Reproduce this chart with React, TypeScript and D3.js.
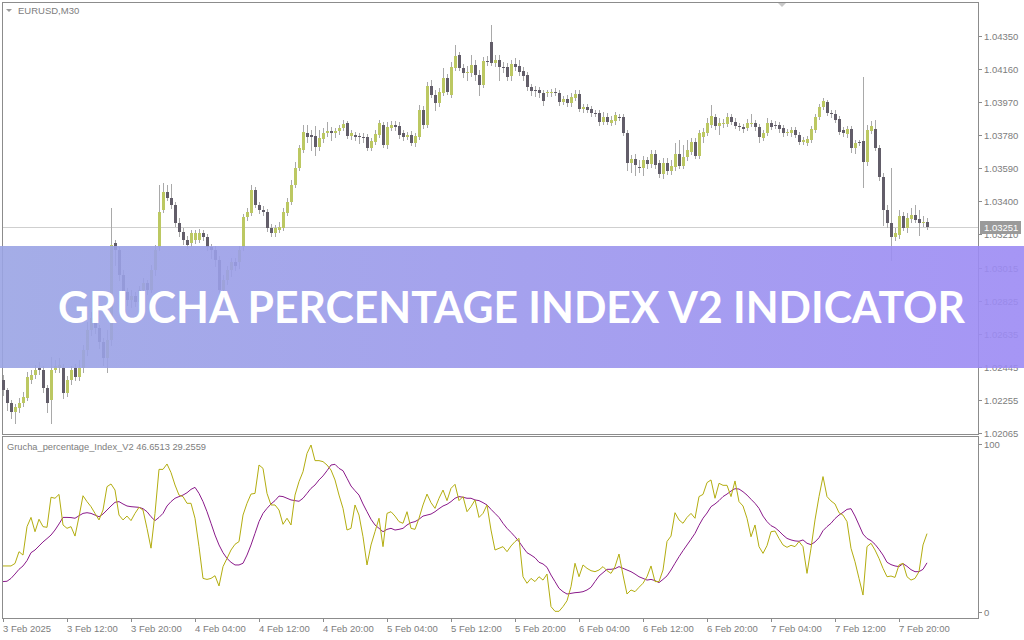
import React from "react";
import * as d3 from "d3";

const opens = [
  1.02368, 1.02311, 1.02236, 1.02183, 1.02207, 1.02236, 1.02265, 1.02368, 1.02397, 1.02437,
  1.02426, 1.02322, 1.02253, 1.02426, 1.02437, 1.02437, 1.02294, 1.02368, 1.02437, 1.02386,
  1.02437, 1.02541, 1.02656, 1.02725, 1.02667, 1.02587, 1.02495, 1.02599, 1.03158, 1.03117,
  1.02973, 1.02875, 1.02829, 1.02852, 1.02817, 1.02887, 1.02927, 1.02887, 1.03002, 1.03135,
  1.03347, 1.03451, 1.03417, 1.03376, 1.03273, 1.03220, 1.03175, 1.03158, 1.03175, 1.03175,
  1.03215, 1.03192, 1.03135, 1.03117, 1.03059, 1.02887, 1.02944, 1.03002, 1.03047, 1.03047,
  1.03135, 1.03307, 1.03330, 1.03463, 1.03376, 1.03347, 1.03335, 1.03244, 1.03215, 1.03232,
  1.03244, 1.03330, 1.03393, 1.03491, 1.03589, 1.03693, 1.03791, 1.03779, 1.03773, 1.03710,
  1.03756, 1.03791, 1.03802, 1.03791, 1.03802, 1.03820, 1.03849, 1.03773, 1.03779, 1.03773,
  1.03768, 1.03768, 1.03704, 1.03739, 1.03779, 1.03837, 1.03722, 1.03820, 1.03837, 1.03831,
  1.03791, 1.03768, 1.03779, 1.03733, 1.03768, 1.03923, 1.03837, 1.04062, 1.04010, 1.03964,
  1.04022, 1.04108, 1.04010, 1.04166, 1.04240, 1.04166, 1.04137, 1.04137, 1.04182, 1.04125,
  1.04067, 1.04205, 1.04315, 1.04194, 1.04211, 1.04171, 1.04171, 1.04119, 1.04188, 1.04176,
  1.04148, 1.04125, 1.04056, 1.04039, 1.04039, 1.04022, 1.04022, 1.04022, 1.04027, 1.04022,
  1.03969, 1.03987, 1.03964, 1.03993, 1.04016, 1.03929, 1.03941, 1.03929, 1.03906, 1.03906,
  1.03854, 1.03883, 1.03849, 1.03860, 1.03883, 1.03883, 1.03791, 1.03618, 1.03641, 1.03595,
  1.03589, 1.03635, 1.03612, 1.03670, 1.03618, 1.03555, 1.03618, 1.03572, 1.03595, 1.03670,
  1.03601, 1.03653, 1.03681, 1.03739, 1.03658, 1.03768, 1.03791, 1.03837, 1.03883, 1.03831,
  1.03843, 1.03843, 1.03883, 1.03854, 1.03831, 1.03826, 1.03820, 1.03843, 1.03849, 1.03826,
  1.03762, 1.03791, 1.03849, 1.03837, 1.03837, 1.03820, 1.03791, 1.03791, 1.03808, 1.03779,
  1.03739, 1.03733, 1.03751, 1.03808, 1.03883, 1.03941, 1.03969, 1.03906, 1.03900, 1.03871,
  1.03808, 1.03785, 1.03814, 1.03704, 1.03739, 1.03745, 1.03623, 1.03802, 1.03814, 1.03704,
  1.03538, 1.03347, 1.03273, 1.03192, 1.03203, 1.03312, 1.03244, 1.03295, 1.03318, 1.03295,
  1.03273, 1.03278,
];

const closes = [
  1.02311, 1.02236, 1.02183, 1.02212, 1.02236, 1.02271, 1.02386, 1.02397, 1.02426, 1.02426,
  1.02322, 1.02236, 1.02426, 1.02449, 1.02455, 1.02294, 1.02368, 1.02426, 1.02386, 1.02437,
  1.02541, 1.02656, 1.02725, 1.02667, 1.02587, 1.02495, 1.02599, 1.03146, 1.03117, 1.02973,
  1.02875, 1.02829, 1.02852, 1.02817, 1.02887, 1.02927, 1.02887, 1.03002, 1.03117, 1.03335,
  1.03451, 1.03417, 1.03376, 1.03273, 1.03220, 1.03175, 1.03146, 1.03215, 1.03215, 1.03215,
  1.03192, 1.03135, 1.03117, 1.03059, 1.02887, 1.02944, 1.03002, 1.03047, 1.03024, 1.03117,
  1.03307, 1.03335, 1.03463, 1.03376, 1.03347, 1.03335, 1.03244, 1.03215, 1.03244, 1.03250,
  1.03335, 1.03393, 1.03491, 1.03589, 1.03704, 1.03796, 1.03768, 1.03768, 1.03710, 1.03762,
  1.03791, 1.03802, 1.03791, 1.03802, 1.03820, 1.03843, 1.03773, 1.03791, 1.03768, 1.03768,
  1.03762, 1.03704, 1.03745, 1.03785, 1.03849, 1.03722, 1.03826, 1.03837, 1.03826, 1.03779,
  1.03768, 1.03779, 1.03733, 1.03773, 1.03923, 1.03837, 1.04062, 1.04010, 1.03964, 1.04027,
  1.04108, 1.04027, 1.04171, 1.04234, 1.04166, 1.04137, 1.04142, 1.04182, 1.04125, 1.04067,
  1.04205, 1.04199, 1.04194, 1.04211, 1.04171, 1.04168, 1.04114, 1.04188, 1.04171, 1.04142,
  1.04119, 1.04056, 1.04033, 1.04036, 1.04022, 1.03975, 1.04027, 1.04027, 1.04022, 1.03969,
  1.03987, 1.03964, 1.03999, 1.04016, 1.03929, 1.03941, 1.03923, 1.03906, 1.03903, 1.03854,
  1.03883, 1.03854, 1.03866, 1.03894, 1.03880, 1.03791, 1.03618, 1.03641, 1.03606, 1.03589,
  1.03635, 1.03612, 1.03670, 1.03606, 1.03555, 1.03618, 1.03572, 1.03601, 1.03670, 1.03601,
  1.03653, 1.03693, 1.03739, 1.03658, 1.03791, 1.03796, 1.03849, 1.03888, 1.03831, 1.03849,
  1.03849, 1.03883, 1.03854, 1.03831, 1.03826, 1.03814, 1.03849, 1.03849, 1.03826, 1.03768,
  1.03791, 1.03849, 1.03826, 1.03831, 1.03814, 1.03791, 1.03796, 1.03808, 1.03779, 1.03739,
  1.03751, 1.03756, 1.03814, 1.03883, 1.03941, 1.03975, 1.03906, 1.03900, 1.03866, 1.03796,
  1.03791, 1.03814, 1.03704, 1.03733, 1.03733, 1.03623, 1.03808, 1.03831, 1.03704, 1.03538,
  1.03347, 1.03273, 1.03192, 1.03215, 1.03312, 1.03244, 1.03301, 1.03318, 1.03290, 1.03273,
  1.03278, 1.03251,
];

const highs = [
  1.02397, 1.02322, 1.02253, 1.02230, 1.02265, 1.02299, 1.02414, 1.02426, 1.02455, 1.02471,
  1.02449, 1.02339, 1.02501, 1.02483, 1.02495, 1.02460, 1.02391, 1.02449, 1.02460, 1.02483,
  1.02570, 1.02702, 1.02759, 1.02748, 1.02685, 1.02610, 1.02656, 1.03359, 1.03175, 1.03135,
  1.03002, 1.02898, 1.02887, 1.02875, 1.02910, 1.02956, 1.02944, 1.03030, 1.03146, 1.03491,
  1.03503, 1.03491, 1.03497, 1.03393, 1.03301, 1.03244, 1.03197, 1.03232, 1.03232, 1.03238,
  1.03232, 1.03209, 1.03152, 1.03140, 1.03082, 1.02973, 1.03024, 1.03071, 1.03071, 1.03140,
  1.03324, 1.03359, 1.03491, 1.03480, 1.03393, 1.03370, 1.03353, 1.03267, 1.03261, 1.03278,
  1.03359, 1.03417, 1.03520, 1.03623, 1.03722, 1.03837, 1.03837, 1.03808, 1.03831, 1.03808,
  1.03820, 1.03854, 1.03826, 1.03820, 1.03837, 1.03866, 1.03860, 1.03808, 1.03796, 1.03791,
  1.03791, 1.03785, 1.03762, 1.03808, 1.03866, 1.03854, 1.03854, 1.03860, 1.03860, 1.03854,
  1.03808, 1.03796, 1.03802, 1.03791, 1.03952, 1.03946, 1.04084, 1.04096, 1.04039, 1.04050,
  1.04166, 1.04131, 1.04199, 1.04298, 1.04257, 1.04188, 1.04176, 1.04240, 1.04211, 1.04154,
  1.04228, 1.04234, 1.04413, 1.04240, 1.04240, 1.04199, 1.04194, 1.04211, 1.04222, 1.04211,
  1.04171, 1.04142, 1.04073, 1.04062, 1.04056, 1.04039, 1.04039, 1.04044, 1.04050, 1.04039,
  1.04004, 1.04010, 1.04022, 1.04039, 1.04039, 1.03958, 1.03958, 1.03946, 1.03923, 1.03923,
  1.03911, 1.03906, 1.03888, 1.03911, 1.03900, 1.03900, 1.03808, 1.03664, 1.03670, 1.03635,
  1.03658, 1.03653, 1.03693, 1.03693, 1.03635, 1.03647, 1.03647, 1.03635, 1.03733, 1.03751,
  1.03722, 1.03751, 1.03762, 1.03762, 1.03808, 1.03820, 1.03877, 1.03952, 1.03900, 1.03877,
  1.03871, 1.03906, 1.03900, 1.03877, 1.03849, 1.03843, 1.03871, 1.03900, 1.03866, 1.03843,
  1.03808, 1.03877, 1.03866, 1.03860, 1.03854, 1.03837, 1.03814, 1.03826, 1.03826, 1.03796,
  1.03768, 1.03773, 1.03831, 1.03900, 1.03958, 1.03993, 1.03981, 1.03923, 1.03923, 1.03888,
  1.03826, 1.03831, 1.03831, 1.03751, 1.03751, 1.04114, 1.03837, 1.03860, 1.03866, 1.03722,
  1.03561, 1.03376, 1.03589, 1.03244, 1.03347, 1.03335, 1.03330, 1.03359, 1.03376, 1.03347,
  1.03312, 1.03301,
];

const lows = [
  1.02282, 1.02195, 1.02149, 1.02121, 1.02183, 1.02218, 1.02253, 1.02351, 1.02380, 1.02403,
  1.02299, 1.02183, 1.02121, 1.02414, 1.02414, 1.02265, 1.02276, 1.02345, 1.02368, 1.02368,
  1.02414, 1.02512, 1.02627, 1.02639, 1.02553, 1.02455, 1.02414, 1.02570, 1.03030, 1.02944,
  1.02841, 1.02800, 1.02789, 1.02794, 1.02800, 1.02870, 1.02864, 1.02875, 1.02973, 1.03117,
  1.03335, 1.03405, 1.03359, 1.03255, 1.03197, 1.03152, 1.03129, 1.03140, 1.03158, 1.03163,
  1.03175, 1.03117, 1.03071, 1.03024, 1.02864, 1.02870, 1.02921, 1.02967, 1.03002, 1.03013,
  1.03117, 1.03290, 1.03318, 1.03365, 1.03330, 1.03318, 1.03226, 1.03197, 1.03197, 1.03220,
  1.03232, 1.03318, 1.03382, 1.03480, 1.03578, 1.03681, 1.03739, 1.03693, 1.03664, 1.03693,
  1.03739, 1.03773, 1.03751, 1.03768, 1.03785, 1.03808, 1.03762, 1.03756, 1.03751, 1.03733,
  1.03739, 1.03693, 1.03693, 1.03728, 1.03768, 1.03710, 1.03704, 1.03808, 1.03808, 1.03762,
  1.03751, 1.03756, 1.03722, 1.03716, 1.03756, 1.03820, 1.03826, 1.03999, 1.03923, 1.03946,
  1.04010, 1.04016, 1.03999, 1.04154, 1.04154, 1.04114, 1.04096, 1.04119, 1.04096, 1.04010,
  1.04056, 1.04182, 1.04182, 1.04176, 1.04096, 1.04142, 1.04096, 1.04096, 1.04154, 1.04125,
  1.04096, 1.04039, 1.04010, 1.04004, 1.03999, 1.03952, 1.04004, 1.04004, 1.04010, 1.03952,
  1.03958, 1.03946, 1.03946, 1.03981, 1.03917, 1.03911, 1.03911, 1.03888, 1.03888, 1.03837,
  1.03843, 1.03843, 1.03837, 1.03843, 1.03866, 1.03779, 1.03578, 1.03566, 1.03549, 1.03566,
  1.03549, 1.03589, 1.03595, 1.03589, 1.03538, 1.03532, 1.03555, 1.03555, 1.03578, 1.03589,
  1.03589, 1.03635, 1.03670, 1.03647, 1.03647, 1.03739, 1.03779, 1.03826, 1.03814, 1.03785,
  1.03826, 1.03831, 1.03843, 1.03820, 1.03808, 1.03796, 1.03808, 1.03831, 1.03808, 1.03739,
  1.03751, 1.03779, 1.03814, 1.03820, 1.03796, 1.03773, 1.03779, 1.03773, 1.03768, 1.03728,
  1.03728, 1.03722, 1.03739, 1.03796, 1.03871, 1.03929, 1.03894, 1.03883, 1.03854, 1.03785,
  1.03773, 1.03768, 1.03681, 1.03675, 1.03722, 1.03480, 1.03606, 1.03791, 1.03693, 1.03520,
  1.03261, 1.03250, 1.03059, 1.03175, 1.03186, 1.03232, 1.03220, 1.03278, 1.03278, 1.03203,
  1.03255, 1.03238,
];

// Grucha percentage index (fast line, olive)
const gruchaIndex = [
  27.4, 27.4, 27.4, 28.9, 35.9, 33.9, 50.8, 56.3, 47.8, 55.2,
  50.8, 50.4, 68.3, 67.7, 70.0, 51.8, 49.8, 50.8, 45.2, 56.7,
  69.2, 65.7, 62.7, 58.7, 54.8, 60.7, 74.6, 76.2, 72.6, 57.7,
  54.8, 57.1, 54.4, 58.7, 62.3, 60.7, 49.8, 38.0, 58.7, 84.9,
  84.9, 88.1, 83.0, 75.6, 69.6, 68.7, 64.7, 64.7, 55.8, 38.9,
  20.0, 19.4, 20.0, 21.6, 15.5, 27.0, 31.9, 36.9, 40.3, 41.9,
  57.7, 64.7, 70.2, 70.6, 87.5, 85.5, 70.6, 63.7, 63.7, 60.7,
  52.2, 55.8, 51.8, 69.6, 77.6, 83.5, 94.4, 99.4, 90.1, 90.1,
  89.5, 87.5, 84.5, 78.6, 69.6, 61.7, 48.8, 49.8, 63.7, 57.7,
  44.8, 28.0, 39.9, 47.8, 55.8, 38.9, 58.7, 59.7, 57.1, 53.8,
  52.8, 59.7, 49.8, 49.2, 55.8, 63.7, 70.2, 65.1, 61.7, 67.7,
  72.6, 66.3, 73.6, 76.0, 66.3, 68.7, 59.7, 62.7, 66.7, 56.3,
  58.7, 63.7, 48.8, 36.9, 37.9, 38.9, 35.9, 39.3, 41.9, 43.8,
  21.0, 17.1, 20.0, 18.1, 21.0, 19.0, 22.6, 3.2, 0.4, 0.4,
  3.2, 6.7, 15.1, 29.0, 21.0, 28.0, 26.0, 24.6, 24.0, 25.0,
  27.0, 24.6, 23.0, 27.0, 34.5, 22.0, 10.7, 13.1, 12.1, 14.7,
  17.1, 21.0, 27.4, 18.1, 18.1, 25.0, 42.0, 45.2, 59.1, 54.8,
  52.8, 56.3, 58.7, 55.8, 68.7, 70.0, 77.0, 78.6, 67.7, 76.6,
  75.4, 75.4, 68.7, 78.0, 65.7, 63.1, 55.8, 44.8, 51.8, 38.9,
  34.9, 39.5, 47.8, 48.2, 43.8, 39.9, 38.5, 39.7, 38.9, 41.9,
  38.9, 23.0, 37.9, 54.8, 68.7, 80.6, 68.7, 66.1, 64.3, 59.1,
  57.7, 53.8, 37.9, 29.9, 20.0, 10.1, 38.9, 40.9, 36.9, 31.9,
  26.0, 21.0, 21.4, 20.6, 28.0, 29.0, 21.0, 19.0, 20.0, 24.0,
  39.9, 46.65,
];

// signal line (purple)
const signalLine = [
  18.1, 18.3, 20.0, 22.6, 25.4, 27.4, 30.6, 35.3, 36.9, 39.3,
  41.7, 43.7, 45.8, 48.8, 52.4, 56.3, 56.3, 56.2, 55.8, 57.3,
  58.7, 59.1, 58.7, 57.7, 56.7, 58.3, 60.7, 63.1, 65.3, 65.7,
  64.3, 63.1, 62.7, 62.5, 62.3, 61.5, 59.7, 56.7, 54.4, 56.3,
  58.7, 63.1, 65.7, 67.7, 68.7, 69.6, 71.0, 73.0, 74.2, 70.6,
  65.7, 59.7, 52.8, 45.8, 39.9, 35.3, 31.9, 29.6, 28.0, 28.0,
  29.0, 33.9, 39.9, 46.8, 53.8, 58.7, 61.7, 64.3, 66.3, 69.0,
  68.7, 67.7, 66.7, 66.3, 65.9, 67.7, 70.6, 73.6, 75.6, 78.6,
  81.0, 84.1, 87.5, 87.9, 85.5, 84.1, 79.6, 75.0, 72.2, 69.6,
  64.3, 59.7, 55.2, 51.8, 49.8, 47.8, 49.2, 49.8, 48.8, 49.2,
  49.8, 51.8, 53.2, 53.8, 55.2, 57.1, 57.7, 58.3, 59.7, 61.5,
  63.1, 64.1, 65.7, 67.7, 68.7, 68.3, 67.7, 67.7, 66.7, 66.3,
  65.1, 63.7, 61.1, 58.7, 56.3, 52.8, 49.8, 47.4, 44.8, 41.9,
  38.5, 35.3, 33.9, 32.3, 29.6, 28.6, 26.6, 22.0, 18.1, 14.1,
  12.1, 10.7, 11.1, 11.5, 11.7, 12.1, 13.1, 14.7, 18.1, 21.4,
  23.4, 25.4, 25.4, 25.8, 27.0, 26.0, 25.0, 24.0, 22.6, 21.0,
  20.0, 19.0, 19.4, 18.7, 17.5, 19.4, 21.5, 25.0, 29.0, 32.9,
  36.5, 39.9, 43.3, 46.8, 51.6, 55.8, 58.9, 62.7, 64.3, 66.3,
  68.7, 70.2, 72.0, 73.4, 73.2, 71.6, 69.6, 67.1, 64.7, 61.7,
  57.1, 53.8, 51.4, 50.2, 48.2, 45.8, 43.8, 42.9, 42.3, 42.1,
  42.9, 40.9, 40.1, 41.7, 44.2, 48.4, 50.8, 52.8, 55.6, 57.7,
  59.3, 61.1, 61.5, 57.1, 51.8, 46.4, 43.8, 42.5, 40.3, 37.3,
  33.9, 29.6, 28.2, 27.4, 27.0, 28.8, 27.2, 25.2, 24.0, 24.0,
  25.4, 29.26,
];

const priceTickLabels = [
  "1.04350", "1.04160", "1.03970", "1.03780", "1.03590", "1.03400", "1.03210",
  "1.03015", "1.02825", "1.02635", "1.02445", "1.02255", "1.02065",
];
const indicatorTicks = [100, 0];
const timeLabels = [
  "3 Feb 2025", "3 Feb 12:00", "3 Feb 20:00", "4 Feb 04:00", "4 Feb 12:00",
  "4 Feb 20:00", "5 Feb 04:00", "5 Feb 12:00", "5 Feb 20:00", "6 Feb 04:00",
  "6 Feb 12:00", "6 Feb 20:00", "7 Feb 04:00", "7 Feb 12:00", "7 Feb 20:00",
];
const barsPerLabel = 16;
const symbolTitle = "EURUSD,M30";
const indicatorTitle = "Grucha_percentage_Index_V2 46.6513 29.2559";
const lastPrice = 1.03251;
const bannerText = "GRUCHA PERCENTAGE INDEX V2 INDICATOR";

export default function App() {
  const W = 1024;
  const H = 640;
  const n = closes.length;
  const paneLeft = 3;
  const paneRight = 978;
  const mainTop = 3;
  const mainBottom = 435;
  const indTop = 437;
  const indBottom = 618;

  const x = d3.scaleLinear().domain([0, n - 1]).range([3, 927]);
  const y = d3.scaleLinear().domain([1.02065, 1.0435]).range([433, 36]);
  const yi = d3.scaleLinear().domain([0, 100]).range([612, 444]);

  const lineGen = d3
    .line<number>()
    .x((_, i) => x(i))
    .y((d) => yi(d));

  const axisColor = "#8c8c8c";
  const textColor = "#7d7d7d";
  const bullColor = "#bcc862";
  const bearColor = "#625d69";
  const wickColor = "#a9a9a9";
  const font = "'Liberation Sans', Arial, sans-serif";

  const candles = d3.range(n).map((i) => {
    const cx = Math.round(x(i));
    const o = y(opens[i]);
    const c = y(closes[i]);
    const top = Math.round(Math.min(o, c));
    const h = Math.max(1, Math.round(Math.abs(o - c)));
    const bull = closes[i] >= opens[i];
    return (
      <g key={i}>
        <line
          x1={cx + 0.5}
          x2={cx + 0.5}
          y1={Math.round(y(highs[i]))}
          y2={Math.round(y(lows[i])) + 1}
          stroke={wickColor}
          strokeWidth={1}
        />
        <rect x={cx - 1} y={top} width={3} height={h} fill={bull ? bullColor : bearColor} />
      </g>
    );
  });

  return (
    <svg
      width={W}
      height={H}
      style={{ position: "fixed", left: 0, top: 0, display: "block", background: "#fff" }}
      fontFamily={font}
    >
      <defs>
        <linearGradient id="bannerGrad" x1="0" x2="1" y1="0" y2="0">
          <stop offset="0%" stopColor="#9aa4e4" />
          <stop offset="100%" stopColor="#9c8af4" />
        </linearGradient>
      </defs>
      <rect x={0} y={0} width={W} height={H} fill="#ffffff" />

      {/* pane borders */}
      <g shapeRendering="crispEdges" fill="none" stroke={axisColor} strokeWidth={1}>
        <rect x={paneLeft - 0.5} y={mainTop - 0.5} width={paneRight - paneLeft + 1} height={mainBottom - mainTop} />
        <rect x={paneLeft - 0.5} y={indTop - 0.5} width={paneRight - paneLeft + 1} height={indBottom - indTop + 1} />
      </g>

      {/* title */}
      <path d="M6,9 L12,9 L9,12 Z" fill="#9a9a9a" />
      <text x={18} y={14} fontSize={9.5} fill={textColor}>
        {symbolTitle}
      </text>
      <path d="M778,3 L786,3 L782,7 Z" fill="#c8c8c8" />

      {/* last price line */}
      <line
        x1={paneLeft}
        x2={paneRight}
        y1={Math.round(y(lastPrice)) + 0.5}
        y2={Math.round(y(lastPrice)) + 0.5}
        stroke="#cfcfcf"
        strokeWidth={1}
        shapeRendering="crispEdges"
      />

      {/* candles */}
      <g shapeRendering="crispEdges">{candles}</g>

      {/* price axis */}
      <g>
        {priceTickLabels.map((t) => {
          const yy = Math.round(y(+t));
          return (
            <g key={t}>
              <line x1={paneRight} x2={paneRight + 4} y1={yy + 0.5} y2={yy + 0.5} stroke={axisColor} shapeRendering="crispEdges" />
              <text x={984} y={yy + 3.5} fontSize={9.5} fill={textColor}>
                {t}
              </text>
            </g>
          );
        })}
        <rect x={980} y={Math.round(y(lastPrice)) - 6} width={41} height={13} fill="#9a9a9a" />
        <text x={984} y={Math.round(y(lastPrice)) + 4} fontSize={9.5} fill="#ffffff">
          {lastPrice.toFixed(5)}
        </text>
      </g>

      {/* indicator pane */}
      <text x={7} y={450} fontSize={9.3} fill={textColor}>
        {indicatorTitle}
      </text>
      {indicatorTicks.map((t) => (
        <g key={t}>
          <line x1={paneRight} x2={paneRight + 4} y1={Math.round(yi(t)) + 0.5} y2={Math.round(yi(t)) + 0.5} stroke={axisColor} shapeRendering="crispEdges" />
          <text x={984} y={yi(t) + 3.5} fontSize={9.5} fill={textColor}>
            {t}
          </text>
        </g>
      ))}
      <path d={lineGen(signalLine) || ""} fill="none" stroke="#8a1a8a" strokeWidth={1} />
      <path d={lineGen(gruchaIndex) || ""} fill="none" stroke="#b3ad10" strokeWidth={1} />

      {/* time axis */}
      {timeLabels.map((t, k) => {
        const tx = Math.round(x(k * barsPerLabel));
        return (
          <g key={t}>
            <line x1={tx + 0.5} x2={tx + 0.5} y1={indBottom} y2={indBottom + 4} stroke={axisColor} shapeRendering="crispEdges" />
            <text x={tx} y={632} fontSize={9.5} fill={textColor}>
              {t}
            </text>
          </g>
        );
      })}

      {/* banner */}
      <rect x={0} y={246} width={W} height={122} fill="url(#bannerGrad)" opacity={0.9} />
      <text
        x={58}
        y={323}
        fontSize={43}
        fontWeight={700}
        fill="#ffffff"
        fontFamily="Lato, 'Open Sans', sans-serif"
        textLength={907}
        lengthAdjust="spacingAndGlyphs"
      >
        {bannerText}
      </text>
    </svg>
  );
}
